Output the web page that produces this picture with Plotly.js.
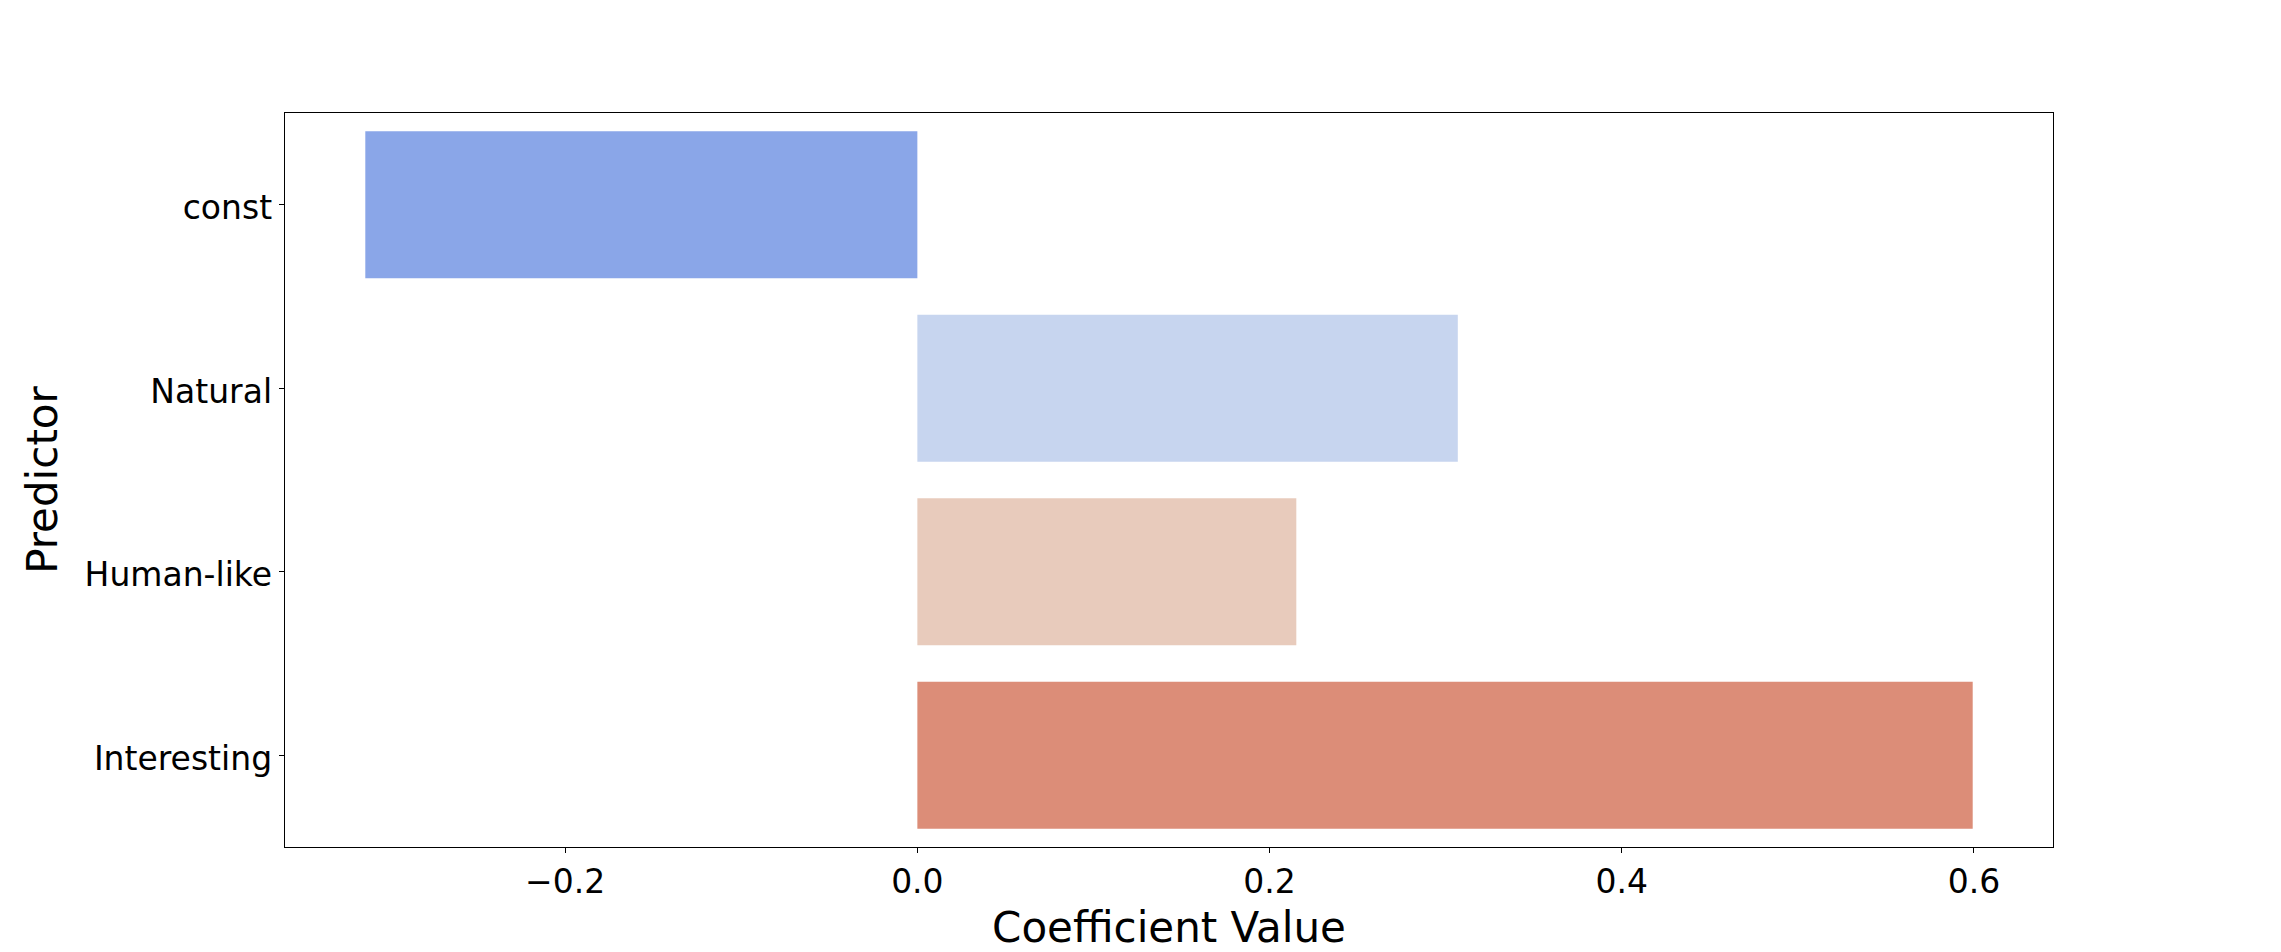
<!DOCTYPE html>
<html>
<head>
<meta charset="utf-8">
<script src="https://cdn.plot.ly/plotly-3.0.1.min.js"></script>
<style>html,body{margin:0;padding:0;background:#fff;}#chart{width:2281px;height:952px;}</style>
</head>
<body>
<div id="chart"></div>
<script>
const predictors = ["const", "Natural", "Human-like", "Interesting"];
const coefficients = [-0.3135, 0.3069, 0.2152, 0.5993];
const barColors = ["#8aa6e8", "#c7d5ef", "#e8cbbc", "#dc8d78"];
const xTickValues = [-0.2, 0.0, 0.2, 0.4, 0.6];
const xTickLabels = ["\u22120.2", "0.0", "0.2", "0.4", "0.6"];

const font = "DejaVu Sans, sans-serif";

const trace = {
  type: "bar",
  orientation: "h",
  y: predictors,
  x: coefficients,
  width: 0.8,
  marker: { color: barColors, line: { width: 0 } },
  hoverinfo: "x+y",
  showlegend: false
};

const layout = {
  width: 2281,
  height: 952,
  margin: { l: 285, r: 228, t: 113, b: 105, autoexpand: false },
  paper_bgcolor: "#ffffff",
  plot_bgcolor: "#ffffff",
  font: { family: font, color: "#000000" },
  xaxis: {
    range: [-0.3591, 0.6449],
    tickvals: xTickValues,
    ticktext: xTickLabels,
    ticks: "outside",
    ticklen: 5,
    tickwidth: 1,
    tickcolor: "#000",
    tickfont: { family: font, size: 33, color: "#000" },
    showgrid: false,
    zeroline: false,
    showline: true,
    mirror: true,
    linecolor: "#000",
    linewidth: 1.3,
    automargin: false,
    title: { text: "Coefficient Value", font: { family: font, size: 42, color: "#000" }, standoff: 34 }
  },
  yaxis: {
    type: "category",
    categoryorder: "array",
    categoryarray: predictors,
    range: [3.5, -0.5],
    ticks: "outside",
    ticklen: 5,
    tickwidth: 1,
    tickcolor: "#000",
    tickfont: { family: font, size: 33, color: "#000" },
    ticklabelshift: -3,
    showgrid: false,
    zeroline: false,
    showline: true,
    mirror: true,
    linecolor: "#000",
    linewidth: 1.3,
    automargin: false,
    title: { text: "Predictor", font: { family: font, size: 42, color: "#000" }, standoff: 14 }
  },
  bargap: 0.2
};

Plotly.newPlot("chart", [trace], layout, { displayModeBar: false, staticPlot: true });
</script>
</body>
</html>
